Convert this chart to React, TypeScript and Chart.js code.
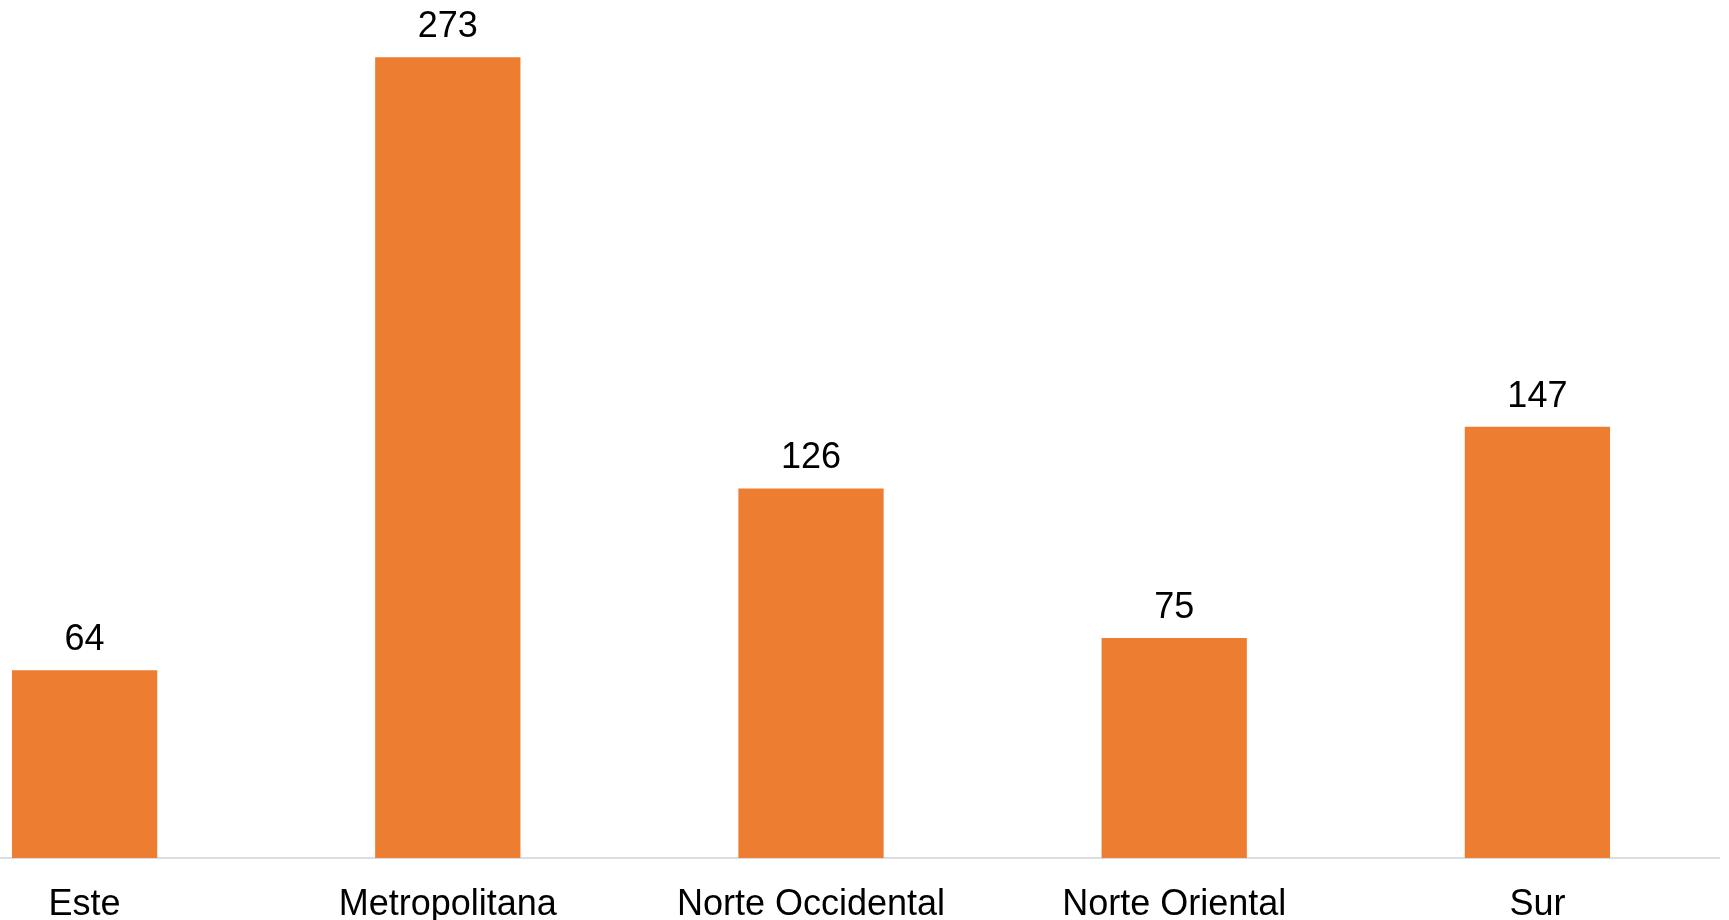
import React, { useEffect, useRef } from "react";
import { Chart, registerables } from "chart.js";

Chart.register(...registerables);

const categories = ["Este", "Metropolitana", "Norte Occidental", "Norte Oriental", "Sur"];
const values = [64, 273, 126, 75, 147];
const yMin = 0;
const yMax = 292.5;

const FONT = "'Liberation Sans', Arial, sans-serif";

const valueLabels = {
  id: "valueLabels",
  afterDatasetsDraw(chart: any) {
    const ctx = chart.ctx;
    const meta = chart.getDatasetMeta(0);
    ctx.save();
    ctx.font = `36px ${FONT}`;
    ctx.fillStyle = "#000000";
    ctx.textAlign = "center";
    ctx.textBaseline = "alphabetic";
    meta.data.forEach((bar: any, i: number) => {
      ctx.fillText(String(values[i]), bar.x, bar.y - 20);
    });
    ctx.restore();
  },
};

export default function App() {
  const ref = useRef<HTMLCanvasElement>(null);
  useEffect(() => {
    if (!ref.current) return;
    const chart = new Chart(ref.current, {
      type: "bar",
      data: {
        labels: categories,
        datasets: [
          {
            data: values,
            backgroundColor: "#ED7D31",
            borderWidth: 0,
            barPercentage: 0.4,
            categoryPercentage: 1,
          },
        ],
      },
      options: {
        responsive: false,
        animation: false,
        layout: { padding: { left: 0, right: 10, top: 0, bottom: 0 } },
        plugins: { legend: { display: false }, tooltip: { enabled: false } },
        scales: {
          x: {
            grid: { display: false, drawTicks: false },
            border: { display: true, color: "#d9dee4", width: 2 },
            ticks: {
              color: "#000000",
              font: { family: FONT, size: 36 },
              padding: 25,
              maxRotation: 0,
              autoSkip: false,
            },
            afterFit: (scale: any) => {
              scale.height = 62;
            },
          },
          y: {
            display: false,
            min: yMin,
            max: yMax,
          },
        },
      },
      plugins: [valueLabels],
    });
    return () => chart.destroy();
  }, []);
  return (
    <div
      style={{
        position: "fixed",
        left: 0,
        top: 0,
        width: 1729,
        height: 920,
        overflow: "hidden",
        background: "#ffffff",
      }}
    >
      <canvas
        ref={ref}
        width={1826}
        height={920}
        style={{ position: "absolute", left: -97, top: 0, width: 1826, height: 920 }}
      />
    </div>
  );
}
